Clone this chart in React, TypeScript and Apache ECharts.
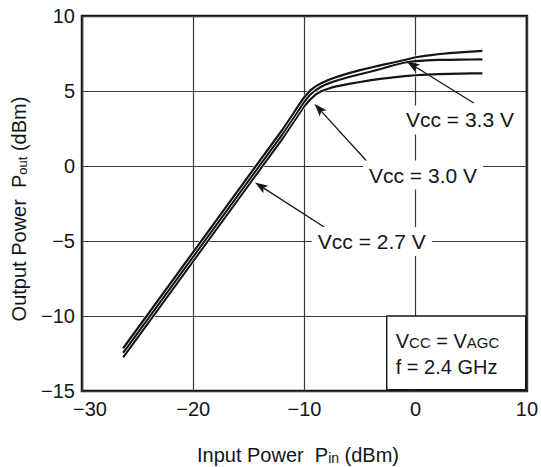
import React, { useEffect, useRef } from "react";
import * as echarts from "echarts";

const FONT = "'Liberation Sans', Arial, Helvetica, sans-serif";
const INK = "#151515";

// Input power (dBm), shared by the three curves
const pin = [-26.3, -12, -11, -10.5, -10, -9.5, -9, -8.5, -8, -7.5, -7, -6, -5, -4, -3, -2, -1, 0, 1, 2, 3, 4, 5, 6];
// Output power (dBm) per supply voltage
const pout33 = [-12.15, 2.4, 3.5, 4.07, 4.6, 5.02, 5.31, 5.52, 5.69, 5.83, 5.96, 6.19, 6.39, 6.57, 6.74, 6.9, 7.07, 7.25, 7.36, 7.45, 7.52, 7.58, 7.63, 7.68];
const pout30 = [-12.45, 2.1, 3.2, 3.75, 4.3, 4.75, 5.05, 5.28, 5.46, 5.6, 5.72, 5.93, 6.12, 6.3, 6.5, 6.72, 6.9, 6.99, 7.04, 7.07, 7.08, 7.09, 7.1, 7.11];
const pout27 = [-12.75, 1.8, 2.9, 3.45, 4.0, 4.42, 4.76, 4.98, 5.12, 5.24, 5.33, 5.48, 5.6, 5.72, 5.82, 5.91, 5.99, 6.05, 6.09, 6.12, 6.14, 6.16, 6.17, 6.18];

const curves = [
  { name: "Vcc = 2.7 V", values: pout27 },
  { name: "Vcc = 3.0 V", values: pout30 },
  { name: "Vcc = 3.3 V", values: pout33 },
];

// Annotation anchors in data coordinates
const annotations = [
  { text: "Vcc = 3.3 V", label: [3.98, 3.07], tail: [5.22, 4.2], tip: [-0.8, 6.97] },
  { text: "Vcc = 3.0 V", label: [0.66, -0.6], tail: [-4.25, 0.2], tip: [-9.1, 4.15] },
  { text: "Vcc = 2.7 V", label: [-3.94, -5.03], tail: [-8.23, -4.07], tip: [-14.45, -1.1] },
];

// Condition box corners (data coordinates)
const boxCorners = [[-2.6, -10], [10, -15]];

const fmt = (v: number) => {
  const s = String(v).replace("-", "\u2212");
  return v === -30 ? "{first|" + s + "}" : s;
};

export default function App() {
  const ref = useRef<HTMLDivElement>(null);
  useEffect(() => {
    document.body.style.margin = "0";
    if (!ref.current) return;
    const chart = echarts.init(ref.current, null, { renderer: "svg" });
    const series: any[] = [];
    curves.forEach((c) => {
      const data = pin.map((x, i) => [x, c.values[i]]);
      series.push({
        type: "line", data, showSymbol: false, smooth: false,
        lineStyle: { color: "#ffffff", width: 3.3, join: "round" }, silent: true,
      });
      series.push({
        type: "line", name: c.name, data, showSymbol: false, smooth: false,
        lineStyle: { color: INK, width: 2.2, join: "round" }, silent: true,
      });
    });
    const option: any = {
      animation: false,
      grid: { left: 82, right: 7, top: 16, bottom: 76, show: true, borderColor: INK, borderWidth: 2.5 },
      xAxis: {
        type: "value", min: -30, max: 10, interval: 10,
        axisLine: { show: false }, axisTick: { show: false },
        splitLine: { show: true, lineStyle: { color: "#3a3a3a", width: 1.2 } },
        axisLabel: {
          formatter: fmt, fontSize: 20, color: INK, fontFamily: FONT, margin: 8,
          rich: { first: { fontSize: 20, color: INK, fontFamily: FONT, padding: [0, 0, 0, 16] } },
        },
      },
      yAxis: {
        type: "value", min: -15, max: 10, interval: 5,
        axisLine: { show: false }, axisTick: { show: false },
        splitLine: { show: true, lineStyle: { color: "#3a3a3a", width: 1.2 } },
        axisLabel: { formatter: (v: number) => String(v).replace("-", "\u2212"), fontSize: 20, color: INK, fontFamily: FONT, margin: 7 },
      },
      series,
    };
    chart.setOption(option);

    const toPx = (p: number[]) => chart.convertToPixel({ xAxisIndex: 0, yAxisIndex: 0 }, p) as number[];
    const graphics: any[] = [];
    annotations.forEach((a) => {
      const t = toPx(a.tail);
      const h = toPx(a.tip);
      const dx = h[0] - t[0], dy = h[1] - t[1];
      const len = Math.hypot(dx, dy);
      const ux = dx / len, uy = dy / len;
      const nx = -uy, ny = ux;
      const L = 13, W = 4.5;
      const bx = h[0] - ux * L, by = h[1] - uy * L;
      graphics.push({
        type: "line", z: 10,
        shape: { x1: t[0], y1: t[1], x2: bx + ux * 3, y2: by + uy * 3 },
        style: { stroke: INK, lineWidth: 1.3 },
      });
      graphics.push({
        type: "polygon", z: 10,
        shape: { points: [[h[0], h[1]], [bx + nx * W, by + ny * W], [bx + ux * 3, by + uy * 3], [bx - nx * W, by - ny * W]] },
        style: { fill: INK },
      });
      const l = toPx(a.label);
      graphics.push({
        type: "text", z: 11, x: l[0], y: l[1],
        style: {
          text: a.text, fill: INK, fontSize: 21, fontFamily: FONT,
          align: "center", verticalAlign: "middle", backgroundColor: "#ffffff", padding: [4, 6],
        },
      });
    });
    const c1 = toPx(boxCorners[0]);
    const c2 = toPx(boxCorners[1]);
    graphics.push({
      type: "rect", z: 10,
      shape: { x: c1[0], y: c1[1], width: c2[0] - c1[0] - 1.2, height: c2[1] - c1[1] - 1.2 },
      style: { fill: "#ffffff", stroke: INK, lineWidth: 1.4 },
    });
    graphics.push({
      type: "text", z: 11, x: c1[0] + 9, y: c1[1] + 25,
      style: {
        text: "V{s|CC} = V{s|AGC}", fill: INK, fontSize: 20, fontFamily: FONT,
        align: "left", verticalAlign: "middle",
        rich: { s: { fontSize: 15, fontFamily: FONT, fill: INK, verticalAlign: "bottom", padding: [0, 0, 1, 0] } },
      },
    });
    graphics.push({
      type: "text", z: 11, x: c1[0] + 9, y: c1[1] + 51,
      style: { text: "f = 2.4 GHz", fill: INK, fontSize: 20, fontFamily: FONT, align: "left", verticalAlign: "middle" },
    });
    // axis titles
    graphics.push({
      type: "text", z: 11, x: 298, y: 455,
      style: {
        text: "Input Power  P{s|in} (dBm)", fill: INK, fontSize: 20, fontFamily: FONT,
        align: "center", verticalAlign: "middle",
        rich: { s: { fontSize: 14, fontFamily: FONT, fill: INK, verticalAlign: "bottom" } },
      },
    });
    graphics.push({
      type: "text", z: 11, x: 19, y: 209, rotation: Math.PI / 2,
      style: {
        text: "Output Power  P{s|out} (dBm)", fill: INK, fontSize: 20, fontFamily: FONT,
        align: "center", verticalAlign: "middle",
        rich: { s: { fontSize: 13, fontFamily: FONT, fill: INK, verticalAlign: "bottom" } },
      },
    });
    chart.setOption({ graphic: { elements: graphics } });
    return () => chart.dispose();
  }, []);
  return <div ref={ref} style={{ width: 541, height: 467 }} />;
}
